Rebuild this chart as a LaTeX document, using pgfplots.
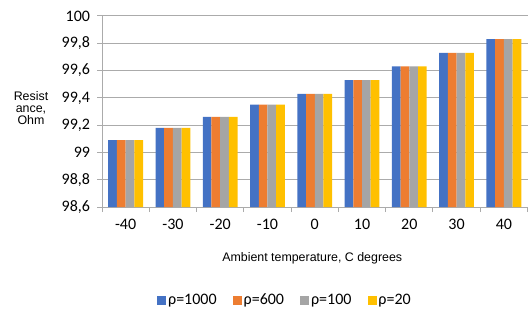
\documentclass[border=0pt]{standalone}
\usepackage{fontspec}
\setmainfont{Liberation Sans}
\newfontfamily\calfont{Carlito}
\usepackage{pgfplots}
\pgfplotsset{compat=1.18}
\definecolor{cblue}{HTML}{4472C4}
\definecolor{corange}{HTML}{ED7D31}
\definecolor{cgray}{HTML}{A5A5A5}
\definecolor{cyellow}{HTML}{FFC000}
\definecolor{gridc}{HTML}{ABABAB}
\pgfplotsset{sq legend/.style={legend image code/.code={\fill[##1] (0bp,-4.5bp) rectangle (9bp,4.5bp);}}}
\begin{document}
\begin{tikzpicture}[x=1bp,y=1bp]
\begin{axis}[
  at={(102bp,104bp)}, anchor=south west,
  scale only axis, width=425.5bp, height=191bp,
  ybar=0pt, bar width=8.7bp,
  xmin=-0.5, xmax=8.5, ymin=98.6, ymax=100,
  xtick={0,...,8},
  xticklabels={-40,-30,-20,-10,0,10,20,30,40},
  minor xtick={-0.5,0.5,...,8.5},
  ytick={98.6,98.8,99,99.2,99.4,99.6,99.8,100},
  yticklabels={{98,6},{98,8},99,{99,2},{99,4},{99,6},{99,8},100},
  ymajorgrids, grid style={gridc, line width=1bp},
  axis x line*=bottom, axis y line*=left,
  axis line style={gridc, line width=1bp, -},
  tick align=outside, major tick length=5bp, minor tick length=5bp,
  major x tick style={draw=none},
  minor x tick style={gridc, line width=1bp},
  ytick style={gridc, line width=1bp},
  tick label style={font=\calfont\fontsize{16bp}{19bp}\selectfont, text=black},
  xticklabel style={yshift=-4bp},
  yticklabel style={xshift=-3.5bp},
  xlabel={Ambient temperature, C degrees},
  xlabel style={font=\fontsize{12.4bp}{14bp}\selectfont, at={(rel axis cs:0.494,-0.267)}, anchor=center},
  ylabel={Resist\\ance,\\Ohm},
  ylabel style={font=\fontsize{12.4bp}{12.4bp}\selectfont, align=center, rotate=-90, at={(rel axis cs:-0.1669,0.518)}, anchor=center},
  legend style={at={(rel axis cs:0.430,-0.487)}, anchor=center, draw=none, fill=none, legend columns=4,
    font=\calfont\fontsize{16bp}{19bp}\selectfont,
    /tikz/every even column/.append style={column sep=14bp}},
]
\addplot[fill=cblue, draw=none, sq legend] coordinates {(0,99.09) (1,99.18) (2,99.26) (3,99.35) (4,99.43) (5,99.53) (6,99.63) (7,99.73) (8,99.83)};
\addplot[fill=corange, draw=none, sq legend] coordinates {(0,99.09) (1,99.18) (2,99.26) (3,99.35) (4,99.43) (5,99.53) (6,99.63) (7,99.73) (8,99.83)};
\addplot[fill=cgray, draw=none, sq legend] coordinates {(0,99.09) (1,99.18) (2,99.26) (3,99.35) (4,99.43) (5,99.53) (6,99.63) (7,99.73) (8,99.83)};
\addplot[fill=cyellow, draw=none, sq legend] coordinates {(0,99.09) (1,99.18) (2,99.26) (3,99.35) (4,99.43) (5,99.53) (6,99.63) (7,99.73) (8,99.83)};
\legend{ρ=1000,ρ=600,ρ=100,ρ=20}
\end{axis}
\pgfresetboundingbox
\useasboundingbox (0,0) rectangle (530,311);
\end{tikzpicture}
\end{document}
